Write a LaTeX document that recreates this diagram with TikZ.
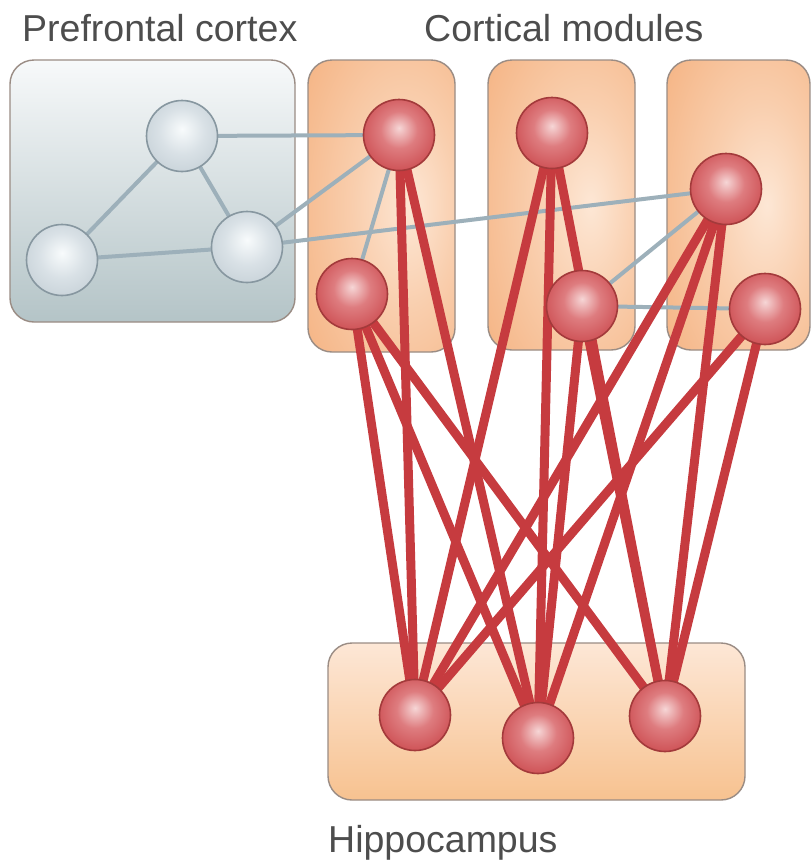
\documentclass[tikz,border=0pt]{standalone}
\usepackage{fontspec}
\setmainfont{Liberation Sans}

\definecolor{redlight}{HTML}{F6D6D6}
\definecolor{redmid}{HTML}{DE7C7F}
\definecolor{redbase}{HTML}{CC4C50}
\definecolor{reddeep}{HTML}{B93D41}
\definecolor{redrim}{HTML}{A33A3B}
\definecolor{redline}{HTML}{C63B3F}
\definecolor{greylight}{HTML}{F8FBFC}
\definecolor{greymid}{HTML}{D9E1E6}
\definecolor{greybase}{HTML}{AEBCC4}
\definecolor{greyrim}{HTML}{8797A0}
\definecolor{greyline}{HTML}{9DB0BA}
\definecolor{pftop}{HTML}{F7F9FA}
\definecolor{pfmid}{HTML}{E4EAEE}
\definecolor{pfbottom}{HTML}{B4C4C7}
\definecolor{orglow}{HTML}{FDE7D5}
\definecolor{orbase}{HTML}{F4AF7C}
\definecolor{hctop}{HTML}{FDE7D6}
\definecolor{hcbottom}{HTML}{F7C290}
\definecolor{boxrim}{HTML}{9A8C84}
\definecolor{labelgrey}{HTML}{4D4D4D}

\pgfdeclareradialshading{redsphere}{\pgfpoint{0bp}{5bp}}{color(0bp)=(redlight); color(13bp)=(redmid); color(30bp)=(redbase); color(50bp)=(reddeep)}
\pgfdeclareradialshading{greysphere}{\pgfpoint{0bp}{5bp}}{color(0bp)=(greylight); color(16bp)=(greymid); color(50bp)=(greybase)}
\pgfdeclareradialshading{cortexglow}{\pgfpoint{10bp}{0bp}}{color(0bp)=(orglow); color(18bp)=(orglow!55!orbase); color(45bp)=(orbase); color(100bp)=(orbase)}

\pgfdeclarelayer{boxes}
\pgfdeclarelayer{wires}
\pgfsetlayers{boxes,wires,main}

\begin{document}
\begin{tikzpicture}
[
    x=1pt, y=-1pt,
    cell/.style={circle, draw, line width=1.6pt, minimum size=71pt, inner sep=0pt},
    hot/.style={cell, draw=redrim, shading=redsphere},
    cool/.style={cell, draw=greyrim, shading=greysphere},
    tie/.style={line width=4pt, color=greyline},
    tract/.style={line width=9pt, color=redline},
    area/.style={draw=boxrim, line width=1.4pt, rounded corners=24pt},
    areaname/.style={font=\fontsize{37.5}{40}\selectfont, text=labelgrey, anchor=base west, inner sep=0pt},
]
\useasboundingbox (0,0) rectangle (811,865);

% regions
\begin{pgfonlayer}{boxes}
\path[area, top color=pftop, middle color=pfmid, bottom color=pfbottom] (10,60) rectangle (295,322);
\path[area, shading=cortexglow] (308,60) rectangle (455,352);
\path[area, shading=cortexglow] (488,60) rectangle (635,350);
\path[area, shading=cortexglow] (667,60) rectangle (810,350);
\path[area, top color=hctop, bottom color=hcbottom] (328,643) rectangle (745,800);
\end{pgfonlayer}

\node[areaname] (pftitle) at (22,41) {Prefrontal cortex};
\node[areaname] (cxtitle) at (424,41) {Cortical modules};
\node[areaname] (hctitle) at (328,852) {Hippocampus};

% prefrontal cells
\node[cool] (pf1) at (182,136) {};
\node[cool] (pf2) at (62,260) {};
\node[cool] (pf3) at (247,247) {};

% cortical cells
\node[hot] (cx1a) at (399,135) {};
\node[hot] (cx1b) at (352,294) {};
\node[hot] (cx2a) at (552,133) {};
\node[hot] (cx2b) at (582,306) {};
\node[hot] (cx3a) at (726,189) {};
\node[hot] (cx3b) at (765,309) {};

% hippocampal cells
\node[hot] (hc1) at (415,715) {};
\node[hot] (hc2) at (538,738) {};
\node[hot] (hc3) at (665,716) {};

\begin{pgfonlayer}{wires}
\draw[tie] (pf1.center) -- (pf2.center);
\draw[tie] (pf1.center) -- (pf3.center);
\draw[tie] (pf2.center) -- (pf3.center);
\draw[tie] (pf1.center) -- (cx1a.center);
\draw[tie] (pf3.center) -- (cx1a.center);
\draw[tie] (pf3.center) -- (cx3a.center);
\draw[tie] (cx1a.center) -- (cx1b.center);
\draw[tie] (cx2b.center) -- (cx3a.center);
\draw[tie] (cx2b.center) -- (cx3b.center);

\draw[tract] (cx1a.center) -- (hc1.center);
\draw[tract] (cx1a.center) -- (hc2.center);
\draw[tract] (cx1b.center) -- (hc1.center);
\draw[tract] (cx1b.center) -- (hc2.center);
\draw[tract] (cx1b.center) -- (hc3.center);
\draw[tract] (cx2a.center) -- (hc1.center);
\draw[tract] (cx2a.center) -- (hc2.center);
\draw[tract] (cx2a.center) -- (hc3.center);
\draw[tract] (cx2b.center) -- (hc2.center);
\draw[tract] (cx2b.center) -- (hc3.center);
\draw[tract] (cx3a.center) -- (hc1.center);
\draw[tract] (cx3a.center) -- (hc2.center);
\draw[tract] (cx3a.center) -- (hc3.center);
\draw[tract] (cx3b.center) -- (hc1.center);
\draw[tract] (cx3b.center) -- (hc3.center);
\end{pgfonlayer}
\end{tikzpicture}
\end{document}
